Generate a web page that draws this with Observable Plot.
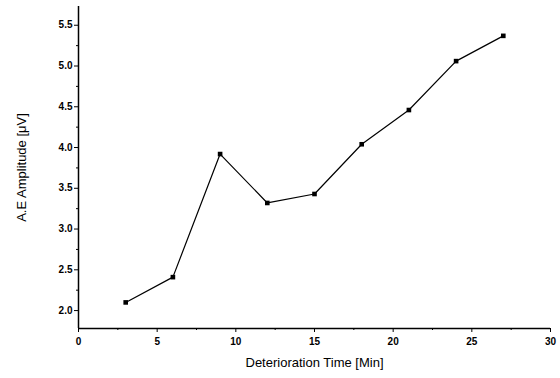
<!DOCTYPE html>
<html>
<head>
<meta charset="utf-8">
<script src="https://cdn.jsdelivr.net/npm/d3@7"></script>
<script src="https://cdn.jsdelivr.net/npm/@observablehq/plot@0.6"></script>
<style>
  html, body { margin: 0; padding: 0; background: #fff; }
  #chart svg { display: block; }
</style>
</head>
<body>
<div id="chart"></div>
<script>
const times = [3, 6, 9, 12, 15, 18, 21, 24, 27];
const amplitudes = [2.10, 2.41, 3.92, 3.32, 3.43, 4.04, 4.46, 5.06, 5.37];
const xTicks = [0, 5, 10, 15, 20, 25, 30];
const xMinorTicks = [2.5, 7.5, 12.5, 17.5, 22.5, 27.5];
const yTicks = [2.0, 2.5, 3.0, 3.5, 4.0, 4.5, 5.0, 5.5];
const yMinorTicks = [2.25, 2.75, 3.25, 3.75, 4.25, 4.75, 5.25];
const xTitle = "Deterioration Time [Min]";
const yTitle = "A.E Amplitude [\u03bcV]";

const data = times.map((t, i) => ({ t, a: amplitudes[i] }));
const yMin = 1.78, yMax = 5.73;

const chart = Plot.plot({
  width: 560,
  height: 378,
  marginLeft: 78,
  marginRight: 10,
  marginTop: 6,
  marginBottom: 50,
  style: { fontFamily: "Liberation Sans, Arial, sans-serif", background: "#fff", color: "#000" },
  x: { domain: [0, 30] },
  y: { domain: [yMin, yMax] },
  marks: [
    Plot.axisX({ ticks: xMinorTicks, tickSize: 2, text: null, label: null }),
    Plot.axisY({ ticks: yMinorTicks, tickSize: 2, text: null, label: null }),
    Plot.axisX({ ticks: xTicks, tickSize: 4, tickPadding: 5, tickFormat: d => String(d),
      fontSize: 10, fontWeight: "bold", label: xTitle, labelAnchor: "center", labelArrow: "none", labelOffset: 38 }),
    Plot.axisY({ ticks: yTicks, tickSize: 4, tickPadding: 2, tickFormat: d => d.toFixed(1),
      fontSize: 10, fontWeight: "bold", label: yTitle, labelAnchor: "center", labelArrow: "none", labelOffset: 62 }),
    Plot.ruleX([0], { y1: yMin, y2: yMax, stroke: "#000", strokeWidth: 1.5 }),
    Plot.ruleY([yMin], { x1: 0, x2: 30, stroke: "#000", strokeWidth: 1.5 }),
    Plot.line(data, { x: "t", y: "a", stroke: "#000", strokeWidth: 1.2 }),
    Plot.dot(data, { x: "t", y: "a", symbol: "square", r: 2.6, fill: "#000", stroke: "none" })
  ]
});
chart.querySelectorAll('[aria-label="x-axis label"] text, [aria-label="y-axis label"] text').forEach(t => {
  t.style.fontSize = "13px";
  t.style.fontWeight = "normal";
});
document.getElementById("chart").appendChild(chart);
</script>
</body>
</html>
